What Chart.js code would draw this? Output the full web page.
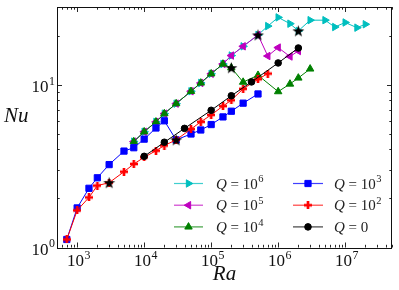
<!DOCTYPE html>
<html><head><meta charset="utf-8">
<script src="https://cdn.jsdelivr.net/npm/chart.js@4.4.0/dist/chart.umd.min.js"></script>
<style>html,body{margin:0;padding:0;background:#fff;}canvas{display:block;}</style>
</head><body>
<canvas id="c" width="399" height="290"></canvas>
<script>
// ---------------- data ----------------
const raQ6 = [7000, 1e4, 1.5e4, 2e4, 3e4, 5e4, 7e4, 1e5, 1.5e5, 2e5, 3e5, 5e5, 7e5, 1e6, 1.5e6, 2e6, 3e6, 5e6, 7e6, 1e7, 1.5e7, 2e7];
const nuQ6 = [4.47, 5.14, 5.91, 6.64, 7.65, 9.11, 10.25, 11.67, 13.4, 15.1, 17.2, 20.2, 22.9, 25.9, 23.7, 21.4, 24.9, 24.9, 22.6, 24.1, 22.4, 23.5];

const raQ5 = [7000, 1e4, 1.5e4, 2e4, 3e4, 5e4, 7e4, 1e5, 1.5e5, 2e5, 3e5, 5e5, 7e5, 1e6, 1.5e6, 2e6];
const nuQ5 = [4.47, 5.14, 5.91, 6.64, 7.65, 9.11, 10.25, 11.67, 13.4, 15.1, 17.2, 20.2, 15.0, 16.9, 14.9, 16.1];

const raQ4 = [7000, 1e4, 1.5e4, 2e4, 3e4, 5e4, 7e4, 1e5, 1.5e5, 2e5, 3e5, 5e5, 1e6, 1.5e6, 2e6, 3e6];
const nuQ4 = [4.47, 5.14, 5.91, 6.64, 7.65, 9.11, 10.25, 11.67, 13.4, 12.7, 10.37, 11.43, 9.07, 10.1, 11.0, 12.5];

const raQ3 = [700, 1000, 1500, 2000, 3000, 5000, 7000, 1e4, 1.5e4, 2e4, 3e4, 5e4, 7e4, 1e5, 1.5e5, 2e5, 3e5, 5e5];
const nuQ3 = [1.12, 1.75, 2.31, 2.68, 3.23, 3.91, 4.10, 4.63, 5.42, 6.0, 4.58, 4.98, 5.27, 5.69, 6.34, 6.87, 7.70, 8.77];

const raQ2 = [700, 1000, 1500, 2000, 3000, 5000, 7000, 1e4, 1.5e4, 2e4, 3e4, 5e4, 7e4, 1e5, 1.5e5, 2e5, 3e5, 5e5, 7e5];
const nuQ2 = [1.12, 1.69, 2.03, 2.40, 2.50, 2.92, 3.26, 3.58, 3.93, 4.23, 4.58, 5.34, 5.91, 6.52, 7.39, 8.03, 9.43, 10.8, 11.7];

const raQ0 = [1e4, 2e4, 4e4, 1e5, 2e5, 4e5, 1e6, 2e6];
const nuQ0 = [3.63, 4.43, 5.39, 6.96, 8.55, 10.4, 13.6, 16.8];

const raStar = [3000, 3e4, 2e5, 5e5, 2e6];
const nuStar = [2.50, 4.58, 12.7, 20.2, 21.4];

const xTickExps = [3, 4, 5, 6, 7];
const yTickExps = [0, 1];
const legendExps = ['6', '5', '4', '3', '2', ''];

// ---------------- styling helpers ----------------
const SERIF = '"Liberation Serif", "DejaVu Serif", serif';
const C = {c:'#00bfbf', m:'#bf00bf', g:'#008000', b:'#0000ff', r:'#ff0000', k:'#000000'};

function makePlus(size, color){
  const cv = document.createElement('canvas');
  cv.width = size; cv.height = size;
  const g = cv.getContext('2d');
  g.fillStyle = color;
  const t = size/3;
  g.fillRect(t, 0, t, size);
  g.fillRect(0, t, size, t);
  return cv;
}
function makeStar(R, color){
  const s = Math.ceil(2*R)+2;
  const cv = document.createElement('canvas');
  cv.width = s; cv.height = s;
  const g = cv.getContext('2d');
  const cx = s/2, cy = s/2 + R*0.08, r = R*0.382;
  g.beginPath();
  for(let i=0;i<10;i++){
    const ang = -Math.PI/2 + i*Math.PI/5;
    const rr = i%2===0 ? R : r;
    const px = cx + rr*Math.cos(ang), py = cy + rr*Math.sin(ang);
    if(i===0) g.moveTo(px,py); else g.lineTo(px,py);
  }
  g.closePath();
  g.fillStyle = color; g.fill();
  return cv;
}
const plusImg = makePlus(8, C.r);
const starImg = makeStar(6.3, C.k);

function pts(xs, ys){ return xs.map((x,i)=>({x:x, y:ys[i]})); }

function series(xs, ys, color, style, radius, rot, order){
  return {
    data: pts(xs, ys), showLine: true,
    borderColor: color, backgroundColor: color, borderWidth: 1,
    pointStyle: style, pointRadius: radius, pointRotation: rot,
    pointBorderColor: color, pointBackgroundColor: color, pointBorderWidth: 1,
    order: order, clip: false
  };
}

const datasets = [
  series(raQ6, nuQ6, C.c, 'triangle', 4.3, 90, 6),
  series(raQ5, nuQ5, C.m, 'triangle', 4.3, -90, 5),
  series(raQ4, nuQ4, C.g, 'triangle', 4.3, 0, 4),
  series(raQ3, nuQ3, C.b, 'rect', 4.4, 0, 3),
  series(raQ2, nuQ2, C.r, plusImg, 4, 0, 2),
  series(raQ0, nuQ0, C.k, 'circle', 3.3, 0, 1),
  {data: pts(raStar, nuStar), showLine: false, pointStyle: starImg, pointRadius: 6, order: 0, clip: false}
];

// ---------------- text / axes drawing ----------------
function drawPow(ctx, base, exp, x, baseline, align, size){
  const fb = size + 'px ' + SERIF, fe = (size*0.7).toFixed(1) + 'px ' + SERIF;
  ctx.font = fb; const wb = ctx.measureText(base).width;
  ctx.font = fe; const we = exp ? ctx.measureText(exp).width + 0.5 : 0;
  let sx = x;
  if(align === 'center') sx = x - (wb+we)/2;
  else if(align === 'right') sx = x - (wb+we);
  ctx.textAlign = 'left'; ctx.textBaseline = 'alphabetic';
  ctx.font = fb; ctx.fillText(base, sx, baseline);
  if(exp){ ctx.font = fe; ctx.fillText(exp, sx + wb + 0.5, baseline - size*0.42); }
  return sx + wb + we;
}

function legendMarker(ctx, i, x, y){
  const col = [C.c, C.m, C.g, C.b, C.r, C.k][i];
  ctx.fillStyle = col; ctx.strokeStyle = col; ctx.lineWidth = 1;
  const r = 4.3;
  ctx.beginPath();
  if(i <= 2){
    const rot = [90, -90, 0][i] * Math.PI/180;
    for(let k=0;k<3;k++){
      const a = rot + k*2*Math.PI/3;
      const px = x + Math.sin(a)*r, py = y - Math.cos(a)*r;
      if(k===0) ctx.moveTo(px,py); else ctx.lineTo(px,py);
    }
    ctx.closePath(); ctx.fill(); ctx.stroke();
  } else if(i === 3){
    const s = 4.4*Math.SQRT1_2;
    ctx.rect(x-s, y-s, 2*s, 2*s); ctx.fill(); ctx.stroke();
  } else if(i === 4){
    ctx.drawImage(plusImg, x - plusImg.width/2, y - plusImg.height/2);
  } else {
    ctx.arc(x, y, 3.3, 0, Math.PI*2); ctx.fill(); ctx.stroke();
  }
}

const mplAxes = {
  id: 'mplAxes',
  afterDraw(chart){
    const ctx = chart.ctx, a = chart.chartArea, xs = chart.scales.x, ys = chart.scales.y;
    ctx.save();
    ctx.strokeStyle = '#111'; ctx.lineWidth = 1;
    ctx.strokeRect(Math.round(a.left)+0.5, Math.round(a.top)+0.5,
                   Math.round(a.right)-Math.round(a.left)-1, Math.round(a.bottom)-Math.round(a.top));
    // ticks (inward on all four sides)
    ctx.lineWidth = 0.9; ctx.beginPath();
    for(let e=2;e<=7;e++){
      for(let m=1;m<=9;m++){
        const v = m*Math.pow(10,e);
        if(v < xs.min || v > xs.max) continue;
        const px = Math.round(xs.getPixelForValue(v)) + 0.5;
        const len = m===1 ? 5 : 2.7;
        ctx.moveTo(px, a.bottom); ctx.lineTo(px, a.bottom - len);
        ctx.moveTo(px, a.top); ctx.lineTo(px, a.top + len);
      }
    }
    for(let e=0;e<=1;e++){
      for(let m=1;m<=9;m++){
        const v = m*Math.pow(10,e);
        if(v < ys.min || v > ys.max) continue;
        const py = Math.round(ys.getPixelForValue(v)) + 0.5;
        const len = m===1 ? 5 : 2.7;
        ctx.moveTo(a.left, py); ctx.lineTo(a.left + len, py);
        ctx.moveTo(a.right, py); ctx.lineTo(a.right - len, py);
      }
    }
    ctx.stroke();
    // tick labels
    ctx.fillStyle = '#111';
    xTickExps.forEach(e => {
      const px = xs.getPixelForValue(Math.pow(10,e));
      drawPow(ctx, '10', String(e), px + 1.5, a.bottom + 18.5, 'center', 17);
    });
    yTickExps.forEach(e => {
      const py = ys.getPixelForValue(Math.pow(10,e));
      drawPow(ctx, '10', String(e), a.left - 2, py + 7, 'right', 17);
    });
    // axis titles
    ctx.font = 'italic 21px ' + SERIF;
    ctx.textAlign = 'center'; ctx.textBaseline = 'alphabetic';
    ctx.fillText('Ra', (a.left + a.right)/2, 280);
    ctx.textAlign = 'left';
    ctx.fillText('Nu', 4, 122);
    // legend (two columns)
    const rowsY = [183.5, 205.2, 226.9];
    const cols = [{l:174, r:203, t:216}, {l:293, r:323, t:334}];
    for(let i=0;i<6;i++){
      const col = cols[Math.floor(i/3)], y = rowsY[i%3];
      const color = [C.c, C.m, C.g, C.b, C.r, C.k][i];
      ctx.strokeStyle = color; ctx.globalAlpha = 0.75; ctx.lineWidth = 1.2;
      ctx.beginPath(); ctx.moveTo(col.l, y); ctx.lineTo(col.r, y); ctx.stroke();
      ctx.globalAlpha = 1;
      legendMarker(ctx, i, (col.l + col.r)/2, y);
      ctx.fillStyle = '#222';
      ctx.font = 'italic 15px ' + SERIF; ctx.textAlign = 'left'; ctx.textBaseline = 'alphabetic';
      const base = y + 5;
      ctx.fillText('Q', col.t, base);
      let xx = col.t + ctx.measureText('Q').width;
      ctx.font = '15px ' + SERIF;
      ctx.fillText(' = ', xx, base);
      xx += ctx.measureText(' = ').width;
      if(legendExps[i]) drawPow(ctx, '10', legendExps[i], xx, base, 'left', 15);
      else { ctx.font = '15px ' + SERIF; ctx.fillText('0', xx, base); }
    }
    ctx.restore();
  }
};

new Chart(document.getElementById('c'), {
  type: 'scatter',
  data: { datasets: datasets },
  options: {
    responsive: false, animation: false, devicePixelRatio: 1, events: [],
    layout: { padding: { left: 57, right: 4, top: 3, bottom: 42.5 } },
    plugins: { legend: { display: false }, tooltip: { enabled: false } },
    scales: {
      x: { type: 'logarithmic', min: 500, max: 5e7, display: false },
      y: { type: 'logarithmic', min: 1, max: 30, display: false }
    }
  },
  plugins: [mplAxes]
});
</script>
</body></html>
